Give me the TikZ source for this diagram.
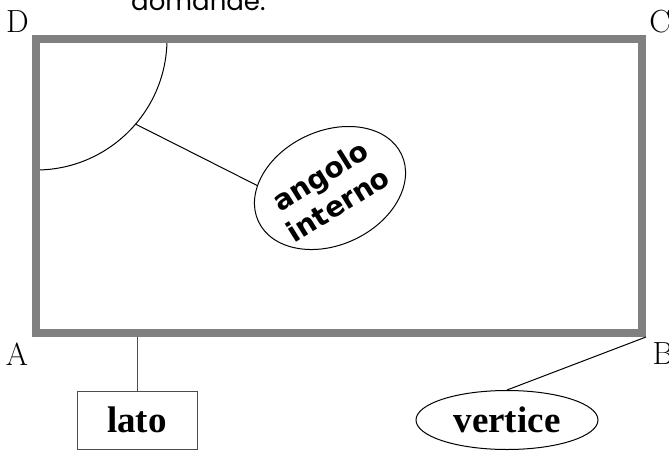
\documentclass[tikz,border=0pt]{standalone}
\usepackage{fontspec}
\usetikzlibrary{shapes.geometric}
\newfontfamily\geofont{Poppins}
\newfontfamily\boldserif{Liberation Serif}
\newfontfamily\boldsans{DejaVu Sans}
\begin{document}
\begin{tikzpicture}[x=1pt,y=-1pt,
  corner/.style={anchor=base,inner sep=0pt,font=\fontsize{32}{38}\selectfont},
  thinline/.style={line width=1pt,black},
  greyline/.style={line width=1pt,draw=black!70},
  frame/.style={line width=8pt,draw=black!50},
  labtext/.style={font=\boldserif\bfseries\fontsize{37}{42}\selectfont,inner sep=0pt}]
\useasboundingbox (0,0) rectangle (669,450);
% partially visible caption at top
\node[anchor=base west,inner sep=0pt,font=\geofont\fontsize{26}{30}\selectfont] (cap) at (131,10.5) {domande.};
% interior angle arc
\coordinate (Dc) at (36,39);
\begin{scope}
  \clip (36,39) rectangle (400,300);
  \draw[thinline] (Dc) circle[radius=131pt];
\end{scope}
% frame
\coordinate (Ac) at (36,333);
\coordinate (Bc) at (642,333);
\coordinate (Cc) at (642,39);
\draw[frame] (Dc) -- (Cc) -- (Bc) -- (Ac) -- cycle;
% corner labels
\node[corner] (D) at (17.5,32) {D};
\node[corner] (C) at (660,32) {C};
\node[corner] (A) at (17,365) {A};
\node[corner] (B) at (663,364) {B};
% angolo interno
\coordinate (arcpt) at (135.6,124.1);
\node[draw,ellipse,thinline,rotate=25,minimum width=158pt,minimum height=114pt,inner sep=0pt] (ang) at (330,188) {};
\node[rotate=32,align=center,inner sep=0pt,font=\boldsans\bfseries\fontsize{28}{34}\selectfont] (angtxt) at (329,190) {angolo\\interno};
\draw[thinline] (arcpt) -- (ang.153);
% lato
\coordinate (latoattach) at (137,337);
\node[draw,greyline,labtext,minimum width=120pt,minimum height=58pt] (lato) at (137,420) {lato};
\draw[greyline] (latoattach) -- (lato.north);
% vertice
\coordinate (Bout) at (646,337);
\node[draw,ellipse,thinline,labtext,minimum width=182pt,minimum height=59pt] (vert) at (507,420) {vertice};
\draw[thinline] (Bout) -- (vert.north);
\end{tikzpicture}
\end{document}
